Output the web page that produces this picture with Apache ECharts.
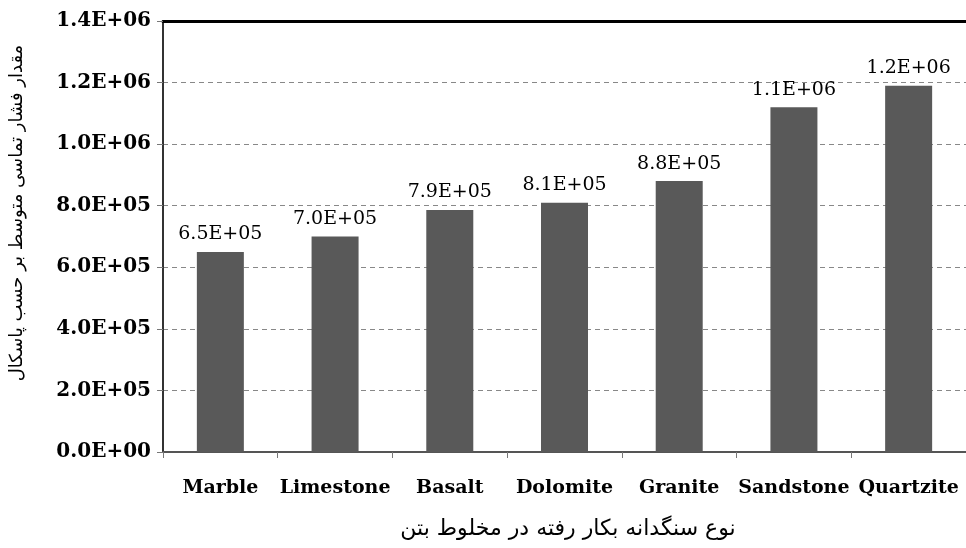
<!DOCTYPE html>
<html>
<head>
<meta charset="utf-8">
<script src="https://cdn.jsdelivr.net/npm/echarts@6/dist/echarts.min.js"></script>
<style>
html,body{margin:0;padding:0;background:#fff;}
#chart{width:966px;height:548px;}
</style>
</head>
<body>
<div id="chart"></div>
<script>
const categories = ['Marble', 'Limestone', 'Basalt', 'Dolomite', 'Granite', 'Sandstone', 'Quartzite'];
const pressureValues = [650000, 700000, 786000, 810000, 880000, 1120000, 1190000];
const yAxisTitle = 'مقدار فشار تماسی متوسط بر حسب پاسکال';
const xAxisTitle = 'نوع سنگدانه بکار رفته در مخلوط بتن';

function sci(v) {
  if (v === 0) return '0.0E+00';
  let e = Math.floor(Math.log10(Math.abs(v)));
  let m = v / Math.pow(10, e);
  let ms = m.toFixed(1);
  if (parseFloat(ms) >= 10) { e += 1; ms = (v / Math.pow(10, e)).toFixed(1); }
  const sign = e < 0 ? '-' : '+';
  const es = String(Math.abs(e)).padStart(2, '0');
  return ms + 'E' + sign + es;
}

const chart = echarts.init(document.getElementById('chart'), null, {renderer: 'canvas'});
const serif = '"DejaVu Serif", "Liberation Serif", serif';

chart.setOption({
  animation: false,
  backgroundColor: '#ffffff',
  grid: {left: 163, top: 21, width: 810, height: 431, containLabel: false},
  graphic: [{
    type: 'text',
    x: 568, y: 529,
    style: {text: xAxisTitle, font: '22px "DejaVu Sans", sans-serif', fill: '#000', textAlign: 'center', textVerticalAlign: 'middle'}
  }, {
    type: 'text',
    x: 17, y: 213,
    rotation: Math.PI / 2,
    style: {text: yAxisTitle, font: '18px "DejaVu Sans", sans-serif', fill: '#000', textAlign: 'center', textVerticalAlign: 'middle'}
  }],
  xAxis: [{
    type: 'category',
    data: categories,
    position: 'bottom',
    axisLine: {show: true, lineStyle: {color: '#555', width: 2}},
    axisTick: {show: true, inside: false, length: 6, lineStyle: {color: '#777', width: 1}},
    axisLabel: {color: '#000', fontFamily: serif, fontWeight: 'bold', fontSize: 19, margin: 27, interval: 0}
  }, {
    type: 'category',
    data: categories,
    position: 'top',
    axisLine: {show: true, lineStyle: {color: '#000', width: 3}},
    axisTick: {show: false},
    axisLabel: {show: false}
  }],
  yAxis: {
    type: 'value',
    min: 0,
    max: 1400000,
    interval: 200000,
    axisLine: {show: true, lineStyle: {color: '#333', width: 2}},
    axisTick: {show: true, inside: false, length: 6, lineStyle: {color: '#777'}},
    axisLabel: {color: '#000', fontFamily: serif, fontWeight: 'bold', fontSize: 20, margin: 12, formatter: sci},
    splitLine: {show: true, lineStyle: {color: '#888', type: [5, 4], width: 1}}
  },
  series: [{
    type: 'bar',
    data: pressureValues,
    barWidth: 47,
    itemStyle: {color: '#595959'},
    label: {
      show: true,
      position: 'top',
      distance: 8,
      color: '#000',
      fontFamily: serif,
      fontSize: 19,
      formatter: p => sci(p.value)
    }
  }]
});
</script>
</body>
</html>
